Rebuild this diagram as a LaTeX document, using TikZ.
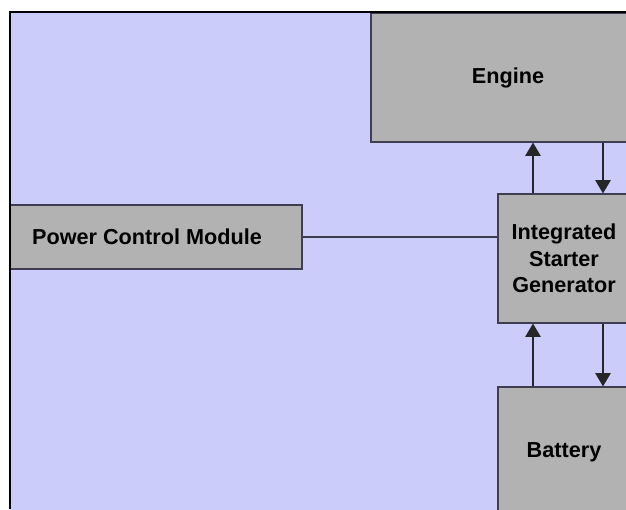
\documentclass[tikz,border=0pt]{standalone}
\usepackage{fontspec}
\setmainfont{Liberation Sans}
\usetikzlibrary{arrows.meta,positioning}
\definecolor{bglavender}{RGB}{204,204,250}
\definecolor{boxgray}{RGB}{178,178,178}
\definecolor{edgegray}{RGB}{62,62,80}

\begin{document}
\begin{tikzpicture}[x=0.025cm, y=-0.025cm,
  block/.style={draw=edgegray, line width=0.8pt, fill=boxgray, inner sep=0pt, align=center, font=\fontsize{15.4}{18.8}\selectfont\bfseries},
  flow/.style={draw=black!85, line width=0.9pt, -{Triangle[length=9.5pt, width=11pt]}}]

\useasboundingbox (0,0) rectangle (626,509);

\begin{scope}
\clip (10,12) rectangle (626,509);

\fill[bglavender] (10,12) rectangle (640,520);

\node[block, minimum width=6.85cm, minimum height=3.225cm] (engine) at (508,77.5) {Engine};

\node[block, minimum width=3.3cm, minimum height=3.225cm] (isg) at (564,258.5) {Integrated\\Starter\\Generator};

\node[block, minimum width=3.3cm, minimum height=3.25cm] (battery) at (564,452) {Battery};

\node[block, minimum width=7.75cm, minimum height=1.6cm] (pcm) at (147,237) {Power Control Module};

\coordinate (upx) at (533,0);
\coordinate (downx) at (603,0);

\draw[edgegray, line width=0.9pt] (pcm.east) -- (pcm.east -| isg.west);

\draw[flow] (isg.north -| upx) -- (engine.south -| upx);
\draw[flow] (engine.south -| downx) -- (isg.north -| downx);
\draw[flow] (battery.north -| upx) -- (isg.south -| upx);
\draw[flow] (isg.south -| downx) -- (battery.north -| downx);
\end{scope}

\draw[black, line width=1.2pt] (10,509) -- (10,12) -- (626,12);

\end{tikzpicture}
\end{document}
